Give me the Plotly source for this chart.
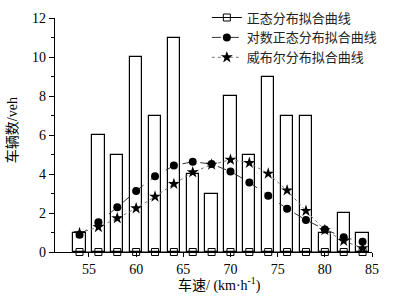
import plotly.graph_objects as go

speeds = [54, 56, 58, 60, 62, 64, 66, 68, 70, 72, 74, 76, 78, 80, 82, 84]
counts = [1, 6, 5, 10, 7, 11, 4, 3, 8, 5, 9, 7, 7, 1, 2, 1]
normal_marks = [0] * len(speeds)
lognormal_fit = [0.89, 1.52, 2.29, 3.13, 3.88, 4.43, 4.63, 4.51, 4.13, 3.57, 2.89, 2.22, 1.64, 1.16, 0.76, 0.52]
weibull_fit = [0.97, 1.28, 1.73, 2.24, 2.84, 3.49, 4.09, 4.48, 4.73, 4.57, 4.02, 3.16, 2.11, 1.12, 0.57, 0.2]

x_title = "车速/ (km·h<sup>-1</sup>)"
y_title = "车辆数/veh"
names = ["正态分布拟合曲线", "对数正态分布拟合曲线", "威布尔分布拟合曲线"]

FONT = "Liberation Serif, Times New Roman, Noto Sans CJK SC, serif"

fig = go.Figure()
fig.add_trace(go.Bar(
    x=speeds, y=counts, width=1.3,
    marker=dict(color="white", line=dict(color="black", width=1.2)),
    showlegend=False,
))
fig.add_trace(go.Scatter(
    x=speeds, y=normal_marks, mode="lines+markers", name=names[0],
    line=dict(color="black", width=1),
    marker=dict(symbol="square-open", size=7, color="black", line=dict(width=1)),
    cliponaxis=False,
))
fig.add_trace(go.Scatter(
    x=speeds, y=lognormal_fit, mode="lines+markers", name=names[1],
    line=dict(color="#333333", width=1, dash="dash"),
    marker=dict(symbol="circle", size=8, color="black"),
))
fig.add_trace(go.Scatter(
    x=speeds, y=weibull_fit, mode="lines+markers", name=names[2],
    line=dict(color="#777777", width=1, dash="dot"),
    marker=dict(symbol="star", size=9, color="black"),
))

fig.update_layout(
    width=398, height=300,
    margin=dict(l=55, r=26, t=18, b=48, autoexpand=False),
    paper_bgcolor="white", plot_bgcolor="white",
    font=dict(family=FONT, size=14, color="black"),
    bargap=0,
    legend=dict(
        x=0.479, y=1.066, xanchor="left", yanchor="top",
        bgcolor="rgba(0,0,0,0)", font=dict(size=13, color="#222222"),
        itemwidth=30, tracegroupgap=0,
    ),
    xaxis=dict(
        range=[51.4, 85], tickvals=[55, 60, 65, 70, 75, 80, 85],
        showgrid=False, zeroline=False, showline=True, linecolor="black", linewidth=1.2,
        ticks="outside", ticklen=4, tickcolor="black", automargin=False,
    ),
    yaxis=dict(
        range=[0, 12], tickvals=[0, 2, 4, 6, 8, 10, 12],
        showgrid=False, zeroline=False, showline=True, linecolor="black", linewidth=1.2,
        ticks="outside", ticklen=5, tickcolor="black", automargin=False,
        minor=dict(tickvals=[1, 3, 5, 7, 9, 11], ticks="outside", ticklen=3, tickcolor="black"),
    ),
    annotations=[
        dict(text=x_title, xref="paper", yref="paper", x=0.52, y=-0.141,
             xanchor="center", yanchor="middle", showarrow=False, font=dict(size=14)),
        dict(text=y_title, xref="paper", yref="paper", x=-0.136, y=0.52,
             xanchor="center", yanchor="middle", showarrow=False, textangle=-90, font=dict(size=14)),
    ],
)

fig.write_html("out.html", config={"displayModeBar": False},
               post_script="document.body.style.margin='0';")
